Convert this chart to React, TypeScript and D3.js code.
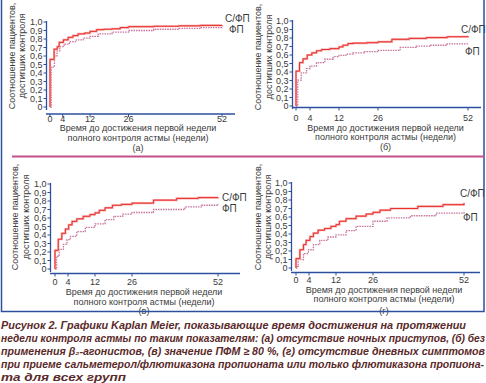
import React from "react";
import * as d3 from "d3";

type Pt = [number, number];

const X_TICKS = [0, 4, 12, 26, 52];
const X_TICK_LABELS = ["0", "4", "12", "26", "52"];
const Y_TICKS = [0, 0.1, 0.2, 0.3, 0.4, 0.5, 0.6, 0.7, 0.8, 0.9, 1.0];
const Y_TICK_LABELS = ["0", "0,1", "0,2", "0,3", "0,4", "0,5", "0,6", "0,7", "0,8", "0,9", "1,0"];
const SERIES_NAMES = ["С/ФП", "ФП"];
const PANEL_LETTERS = ["(а)", "(б)", "(в)", "(г)"];
const X_TITLE = ["Время до достижения первой недели", "полного контроля астмы (недели)"];
const Y_TITLE = ["Соотношение пациентов,", "достигших контроля"];

// (а) отсутствие ночных приступов
const A_SFP: Pt[] = [[0, 0.56], [1.3, 0.68], [2.3, 0.71], [2.9, 0.76], [4.2, 0.79], [5.6, 0.82], [7, 0.84], [8.5, 0.86], [10.4, 0.87], [12, 0.89], [14.4, 0.91], [17, 0.915], [20, 0.92], [23, 0.935], [26, 0.945], [33, 0.95], [40, 0.955], [46, 0.96], [52, 0.965]];
const A_FP: Pt[] = [[0.4, 0.47], [1.4, 0.6], [2.2, 0.66], [3.1, 0.71], [4.4, 0.74], [6, 0.77], [8, 0.79], [10, 0.81], [12, 0.83], [15, 0.86], [20, 0.88], [26, 0.9], [33, 0.915], [40, 0.925], [46, 0.935], [52, 0.945]];
// (б) без применения β2-агонистов
const B_SFP: Pt[] = [[0, 0.41], [1, 0.51], [2, 0.555], [3.2, 0.6], [4.5, 0.625], [5.8, 0.65], [7.2, 0.665], [9.5, 0.675], [12, 0.695], [13.4, 0.715], [15.2, 0.735], [17, 0.74], [22, 0.745], [26, 0.755], [30, 0.785], [35, 0.795], [40, 0.805], [46, 0.815], [52, 0.825]];
const B_FP: Pt[] = [[0.5, 0.305], [1.5, 0.39], [3, 0.44], [4, 0.47], [5.8, 0.51], [8.1, 0.55], [10.4, 0.58], [12, 0.595], [14.5, 0.61], [17, 0.625], [21, 0.64], [26, 0.655], [32.4, 0.69], [37, 0.705], [41, 0.715], [46, 0.73], [52, 0.74]];
// (в) значение ПФМ ≥ 80 %
const C_SFP: Pt[] = [[0, 0.22], [1, 0.35], [2.1, 0.42], [3.2, 0.47], [4.2, 0.52], [5.2, 0.56], [6.6, 0.59], [8.5, 0.62], [10.5, 0.64], [12, 0.66], [13.6, 0.69], [15.8, 0.72], [18.6, 0.75], [22, 0.76], [26, 0.775], [32.5, 0.81], [39.5, 0.83], [46, 0.84], [52, 0.845]];
const C_FP: Pt[] = [[0.5, 0.15], [1.3, 0.23], [2.6, 0.29], [3.7, 0.345], [4.7, 0.385], [6.6, 0.44], [9.1, 0.49], [12, 0.53], [15.8, 0.58], [19.1, 0.62], [22.5, 0.645], [26, 0.665], [32.5, 0.7], [42, 0.73], [47, 0.75], [52, 0.765]];
// (г) отсутствие дневных симптомов
const D_SFP: Pt[] = [[0, 0.11], [1.2, 0.215], [2.3, 0.275], [3.1, 0.325], [4.3, 0.37], [5.3, 0.41], [6.7, 0.445], [8.6, 0.465], [10.5, 0.49], [12, 0.51], [13.3, 0.55], [15.8, 0.58], [19.6, 0.61], [23.4, 0.635], [26, 0.655], [28, 0.68], [31, 0.7], [38.8, 0.725], [46, 0.745], [52, 0.765]];
const D_FP: Pt[] = [[0.2, 0.02], [0.7, 0.1], [2.3, 0.17], [3.8, 0.215], [5.3, 0.275], [7.2, 0.325], [9.6, 0.365], [12, 0.39], [15.8, 0.44], [19.6, 0.49], [26, 0.55], [30, 0.59], [36.7, 0.615], [44, 0.645], [52, 0.675]];

const CAPTION = [
  "Рисунок 2. Графики Kaplan Meier, показывающие время достижения на протяжении",
  "недели контроля астмы по таким показателям: (а) отсутствие ночных приступов, (б) без",
  "применения β₂-агонистов, (в) значение ПФМ ≥ 80 %, (г) отсутствие дневных симптомов",
  "при приеме сальметерол/флютиказона пропионата или только флютиказона пропиона-",
  "та для всех групп",
];

interface Layout {
  yAxisX: number; y0: number; y1: number; xAxisY: number;
  xTickPx: number[]; xAxisEnd: number; tickLabelY: number;
  yTitleX: [number, number]; yTitleCY: number;
  xTitleCX: number; xTitleY: [number, number, number];
  leg1: [number, number]; leg2: [number, number];
}

const LAYOUTS: Layout[] = [
  { yAxisX: 46.5, y0: 107, y1: 22, xAxisY: 114, xTickPx: [50, 62.7, 90, 128.5, 222], xAxisEnd: 235, tickLabelY: 121.5,
    yTitleX: [15, 25], yTitleCY: 56, xTitleCX: 138, xTitleY: [131, 141, 151], leg1: [225, 22], leg2: [229, 33] },
  { yAxisX: 292.5, y0: 106, y1: 21, xAxisY: 107.5, xTickPx: [296, 310, 339, 378, 468], xAxisEnd: 481, tickLabelY: 120.5,
    yTitleX: [261, 272], yTitleCY: 57, xTitleCX: 385.5, xTitleY: [131, 140, 150], leg1: [461, 33], leg2: [465, 55] },
  { yAxisX: 50.5, y0: 269, y1: 184, xAxisY: 273.5, xTickPx: [55, 68, 95, 132, 218], xAxisEnd: 240, tickLabelY: 285,
    yTitleX: [18, 29], yTitleCY: 217, xTitleCX: 144, xTitleY: [295, 305, 313.5], leg1: [222, 201], leg2: [222, 212] },
  { yAxisX: 291.5, y0: 268, y1: 183, xAxisY: 272.5, xTickPx: [296, 309, 336, 373, 464], xAxisEnd: 480, tickLabelY: 282.5,
    yTitleX: [261, 271], yTitleCY: 217, xTitleCX: 384, xTitleY: [292.5, 302, 313.5], leg1: [460, 197], leg2: [463, 221] },
];

const PANEL_DATA: [Pt[], Pt[]][] = [[A_SFP, A_FP], [B_SFP, B_FP], [C_SFP, C_FP], [D_SFP, D_FP]];

const AXIS = "#2c4f9e";
const TXT = "#3a3a3a";
const RED = "#e8302c";
const PINK = "#f6a9a9";
const FPCOL = "#c7739c";
const FONT = "Liberation Sans, Arial, sans-serif";

function Panel({ L, data, letter }: { L: Layout; data: [Pt[], Pt[]]; letter: string }) {
  const x = d3.scaleLinear().domain(X_TICKS).range(L.xTickPx);
  const y = d3.scaleLinear().domain([0, 1]).range([L.y0, L.y1]);
  const line = d3.line<Pt>().x((d) => x(d[0])).y((d) => y(d[1])).curve(d3.curveStepAfter);
  const sfp = line([[0, 0], ...data[0]]) || "";
  const fp = line([[0, 0], ...data[1]]) || "";
  return (
    <g>
      <path d={fp} fill="none" stroke={FPCOL} strokeWidth={1.3} strokeDasharray="1.5 1" />
      <path d={sfp} fill="none" stroke={PINK} strokeWidth={2.2} />
      <path d={sfp} fill="none" stroke={RED} strokeWidth={1} />
      <line x1={L.yAxisX} x2={L.yAxisX} y1={y(1) - 1} y2={y(0) + 3} stroke={AXIS} strokeWidth={1.3} />
      {Y_TICKS.map((t, i) => (
        <g key={i}>
          <line x1={L.yAxisX - 3} x2={L.yAxisX} y1={y(t)} y2={y(t)} stroke={AXIS} strokeWidth={1} />
          <text x={L.yAxisX - 4} y={y(t) + 3.2} textAnchor="end" fontSize={9} fill={TXT} fontFamily={FONT}>{Y_TICK_LABELS[i]}</text>
        </g>
      ))}
      <line x1={L.yAxisX - 0.5} x2={L.xAxisEnd} y1={L.xAxisY} y2={L.xAxisY} stroke={AXIS} strokeWidth={1.3} />
      {X_TICKS.map((t, i) => (
        <g key={i}>
          <line x1={x(t)} x2={x(t)} y1={L.xAxisY} y2={L.xAxisY + 3} stroke={AXIS} strokeWidth={1} />
          <text x={x(t)} y={L.tickLabelY} textAnchor="middle" fontSize={9} fill={TXT} fontFamily={FONT}>{X_TICK_LABELS[i]}</text>
        </g>
      ))}
      {Y_TITLE.map((s, i) => (
        <text key={i} transform={`translate(${L.yTitleX[i]},${L.yTitleCY}) rotate(-90)`} textAnchor="middle" fontSize={9} fill={TXT} fontFamily={FONT}>{s}</text>
      ))}
      <text x={L.xTitleCX} y={L.xTitleY[0]} textAnchor="middle" fontSize={9} fill={TXT} fontFamily={FONT}>{X_TITLE[0]}</text>
      <text x={L.xTitleCX} y={L.xTitleY[1]} textAnchor="middle" fontSize={9} fill={TXT} fontFamily={FONT}>{X_TITLE[1]}</text>
      <text x={L.xTitleCX} y={L.xTitleY[2]} textAnchor="middle" fontSize={9} fill={TXT} fontFamily={FONT}>{letter}</text>
      <text x={L.leg1[0]} y={L.leg1[1]} fontSize={10} fill={TXT} fontFamily={FONT}>{SERIES_NAMES[0]}</text>
      <text x={L.leg2[0]} y={L.leg2[1]} fontSize={10} fill={TXT} fontFamily={FONT}>{SERIES_NAMES[1]}</text>
    </g>
  );
}

export default function App() {
  const capY = [329, 342, 355, 368, 381];
  const capW = [465, 484, 484, 483, 125];
  return (
    <svg width={486} height={383} style={{ position: "absolute", left: 0, top: 0, background: "#fff" }}>
      <rect x={0} y={0} width={486} height={383} fill="#fff" />
      {LAYOUTS.map((L, i) => (
        <Panel key={i} L={L} data={PANEL_DATA[i]} letter={PANEL_LETTERS[i]} />
      ))}
      <path d="M1.5,0 V311.5 H484 V0" fill="none" stroke={AXIS} strokeWidth={1.5} />
      <line x1={12} x2={484} y1={156.5} y2={156.5} stroke="#c4508a" strokeWidth={2} />
      {CAPTION.map((s, i) => (
        <text key={i} x={1} y={capY[i]} textLength={capW[i]} lengthAdjust="spacingAndGlyphs"
          fontFamily={FONT} fontWeight={700} fontStyle="italic" fontSize={10.5} fill="#5a2a2a">{s}</text>
      ))}
    </svg>
  );
}
